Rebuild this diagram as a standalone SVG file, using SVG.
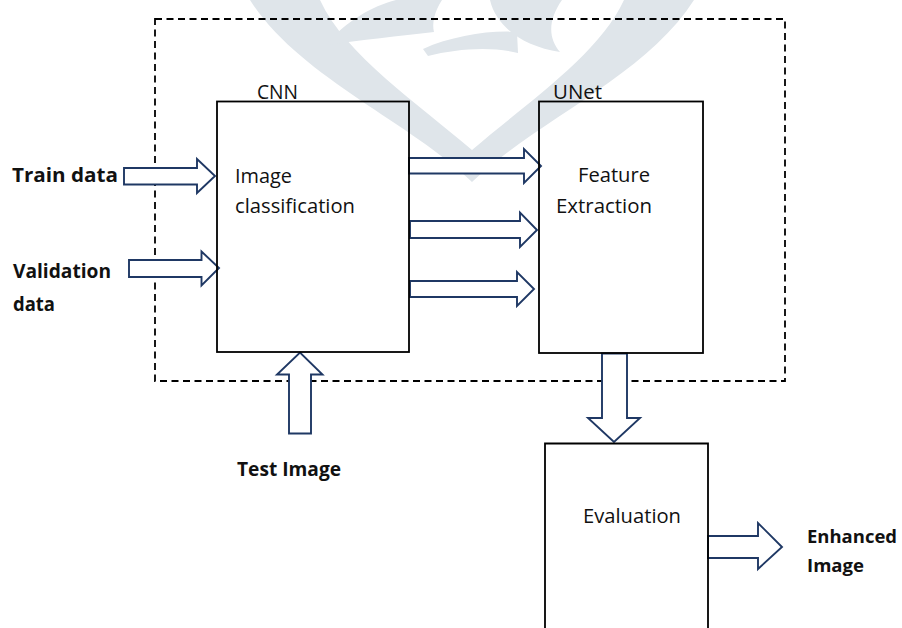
<svg xmlns="http://www.w3.org/2000/svg" width="902" height="628" viewBox="0 0 902 628">
  <style>
    .mark { fill: #dfe5ea; stroke: none; }
    .frame { fill: none; stroke: #000; stroke-width: 1.8; stroke-dasharray: 7 4.5; }
    .box { fill: none; stroke: #000; stroke-width: 1.8; }
    .blk { fill: #fff; stroke: #1f3864; stroke-width: 1.9; stroke-linejoin: miter; }
    .lbl { font-family: "Open Sans", "Liberation Sans", sans-serif; font-size: 20px; fill: #111; }
    .bold { font-weight: bold; }
    .tight { font-size: 18px; }
  </style>

  <rect width="902" height="628" fill="#fff"/>

  <!-- background emblem -->
  <g id="emblem">
    <path class="mark" d="M 250 0 L 320 0 C 345 55 420 105 472 150 L 472 182 C 410 122 298 76 250 0 Z"/>
    <path class="mark" d="M 694 0 L 624 0 C 599 55 524 105 472 150 L 472 182 C 534 122 646 76 694 0 Z"/>
    <path class="mark" d="M 326 45 C 345 22 372 6 396 0 L 442 0 C 434 12 432 24 434 32 C 400 36 360 40 326 45 Z"/>
    <path class="mark" d="M 423 49 C 452 36 490 30 517 32 L 518 53 C 490 46 456 49 428 56 Z"/>
    <path class="mark" d="M 490 0 L 562 0 C 548 20 548 38 560 52 C 522 46 496 26 490 0 Z"/>
  </g>

  <!-- dashed system boundary -->
  <rect class="frame" x="155" y="19" width="630" height="362"/>

  <g id="connectors">
    <!-- Train data in -->
    <path class="blk" d="M 124 168 H 197 V 159 L 215 176 L 197 193 V 184.5 H 124 Z"/>
    <!-- Validation data in -->
    <path class="blk" d="M 129 260 H 201.5 V 251.5 L 219 268 L 201.5 285.5 V 277 H 129 Z"/>
    <!-- CNN to UNet -->
    <path class="blk" d="M 409 158 H 524 V 149 L 541 166 L 524 183 V 173.5 H 409 Z"/>
    <path class="blk" d="M 410 221 H 520 V 212.5 L 537 230 L 520 247 V 238 H 410 Z"/>
    <path class="blk" d="M 410 281 H 517 V 272 L 534 289 L 517 306 V 297 H 410 Z"/>
    <!-- Test Image up -->
    <path class="blk" d="M 289 433.5 V 374.5 H 277 L 300 352.5 L 322.5 374.5 H 311 V 433.5 Z"/>
    <!-- UNet down to Evaluation -->
    <path class="blk" d="M 602 353.5 H 627 V 418 H 640 L 614 442 L 588 418 H 602 Z"/>
    <!-- Enhanced Image out -->
    <path class="blk" d="M 708 536 H 758 V 523 L 782 547 L 758 569 V 558 H 708 Z"/>
  </g>

  <g id="cnn">
    <rect class="box" x="217" y="101.5" width="192" height="250.5"/>
    <text class="lbl" x="257" y="99" textLength="41" lengthAdjust="spacingAndGlyphs">CNN</text>
    <text class="lbl" x="235" y="183" textLength="57" lengthAdjust="spacingAndGlyphs">Image</text>
    <text class="lbl" x="235" y="213" textLength="120" lengthAdjust="spacingAndGlyphs">classification</text>
  </g>

  <g id="unet">
    <rect class="box" x="539" y="101.5" width="164" height="251.5"/>
    <text class="lbl" x="553" y="99" textLength="49" lengthAdjust="spacingAndGlyphs">UNet</text>
    <text class="lbl" x="578" y="182" textLength="72" lengthAdjust="spacingAndGlyphs">Feature</text>
    <text class="lbl" x="556" y="212.5" textLength="96" lengthAdjust="spacingAndGlyphs">Extraction</text>
  </g>

  <g id="evaluation">
    <path class="box" d="M 545 640 V 443.5 H 708 V 640"/>
    <text class="lbl" x="583" y="523" textLength="98" lengthAdjust="spacingAndGlyphs">Evaluation</text>
  </g>

  <g id="train-data">
    <text class="lbl bold" x="12" y="182" textLength="106" lengthAdjust="spacingAndGlyphs">Train data</text>
  </g>

  <g id="validation-data">
    <text class="lbl bold" x="13" y="278" textLength="98" lengthAdjust="spacingAndGlyphs">Validation</text>
    <text class="lbl bold" x="13" y="311" textLength="42" lengthAdjust="spacingAndGlyphs">data</text>
  </g>

  <g id="test-image">
    <text class="lbl bold" x="237" y="476" textLength="104" lengthAdjust="spacingAndGlyphs">Test Image</text>
  </g>

  <g id="enhanced-image">
    <text class="lbl bold tight" x="807" y="542.5" textLength="90" lengthAdjust="spacingAndGlyphs">Enhanced</text>
    <text class="lbl bold tight" x="807" y="571.5" textLength="57" lengthAdjust="spacingAndGlyphs">Image</text>
  </g>
</svg>
